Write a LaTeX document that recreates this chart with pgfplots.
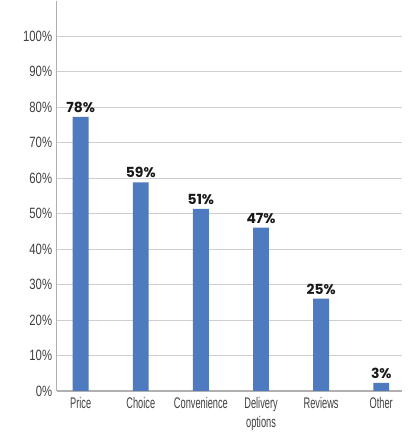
\documentclass[border=0pt]{standalone}
\usepackage{pgfplots}
\usepackage{pgfplotstable}
\pgfplotsset{compat=1.18}
\usepackage{fontspec}
\setmainfont{Liberation Sans}
\newfontfamily\tickfont[FakeStretch=0.76]{Liberation Sans}
\newfontfamily\xfont[FakeStretch=0.6]{Liberation Sans}
\newfontfamily\barfont{Poppins}
\definecolor{barblue}{HTML}{4E7BBF}
\definecolor{gridgray}{HTML}{CFCFCF}
\definecolor{axisgray}{HTML}{B0B0B0}
\definecolor{txtgray}{HTML}{404040}
\pgfplotstableread{
x h lab
0 77.2 78
1 58.8 59
2 51.3 51
3 46.0 47
4 26.0 25
5 2.3 3
}\data
\begin{document}
\begin{tikzpicture}
\begin{axis}[
  scale only axis,
  width=348pt, height=393pt,
  xmin=-0.4, xmax=5.35,
  ymin=0, ymax=110,
  ytick={0,10,...,100},
  yticklabel={\pgfmathprintnumber{\tick}\%},
  /pgf/number format/assume math mode=true,
  xtick=data,
  xticklabels={Price,Choice,Convenience,{Delivery\\options},Reviews,Other},
  xticklabel style={font=\xfont\fontsize{15.5}{19}\selectfont, text=txtgray, align=center, anchor=north, yshift=-3pt},
  yticklabel style={font=\tickfont\fontsize{15}{15}\selectfont, text=txtgray, xshift=-1pt},
  major tick length=0pt,
  axis x line*=bottom,
  axis y line*=left,
  axis line style={axisgray, line width=1.2pt},
  ymajorgrids,
  grid style={gridgray, line width=1pt},
  separate axis lines,
  x axis line style={-},
  y axis line style={-},
  clip=false,
]
\addplot[ybar, bar width=16pt, fill=barblue, draw=none,
  point meta=explicit,
  nodes near coords={\pgfmathprintnumber{\pgfplotspointmeta}\%},
  nodes near coords style={font=\barfont\bfseries\fontsize{14}{14}\selectfont, text=black!90, anchor=south, inner sep=1pt, yshift=3pt},
] table[x=x, y=h, meta=lab] {\data};
\coordinate (o) at (rel axis cs:0,0);
\end{axis}
\path (o) ++(-57pt,-41pt) rectangle ++(413pt,434pt);
\end{tikzpicture}
\end{document}
